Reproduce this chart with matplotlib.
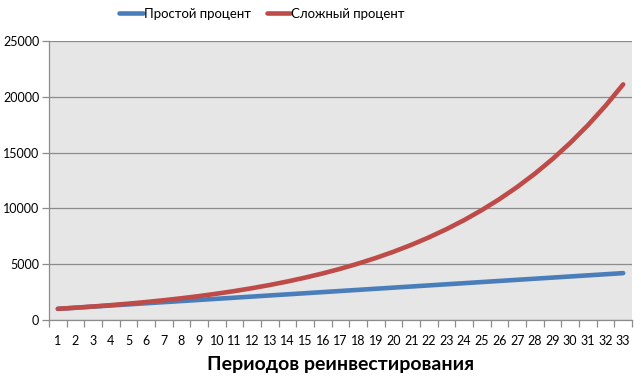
import matplotlib
matplotlib.use("Agg")
import matplotlib.pyplot as plt
from matplotlib.ticker import FixedLocator, NullFormatter

periods = list(range(1, 34))
simple = [1000, 1100, 1200, 1300, 1400, 1500, 1600, 1700, 1800, 1900, 2000,
          2100, 2200, 2300, 2400, 2500, 2600, 2700, 2800, 2900, 3000, 3100,
          3200, 3300, 3400, 3500, 3600, 3700, 3800, 3900, 4000, 4100, 4200]
compound = [1000, 1100, 1210, 1331, 1464, 1611, 1772, 1949, 2144, 2358, 2594,
            2853, 3138, 3452, 3797, 4177, 4595, 5054, 5560, 6116, 6727, 7400,
            8140, 8954, 9850, 10835, 11918, 13110, 14421, 15863, 17449, 19194, 21114]
yticks = [0, 5000, 10000, 15000, 20000, 25000]
series_names = ["Простой процент", "Сложный процент"]
xlabel = "Периодов реинвестирования"

plt.rcParams['font.family'] = ['Lato', 'DejaVu Sans']

fig = plt.figure(figsize=(6.41, 3.79), dpi=100)
ax = fig.add_axes([49/641, 1 - 320/379, (632 - 49)/641, (320 - 41)/379])
ax.set_facecolor('#E6E6E6')

ax.plot(periods, simple, color='#4A7EBB', lw=3.3, solid_capstyle='round', label=series_names[0], zorder=3)
ax.plot(periods, compound, color='#BE4B48', lw=3.3, solid_capstyle='round', label=series_names[1], zorder=3)

ax.set_xlim(0.5, 33.5)
ax.set_ylim(0, 25000)
ax.set_yticks(yticks)
ax.set_yticklabels([str(v) for v in yticks], fontsize=9)
ax.yaxis.grid(True, color='#8C8C8C', lw=0.9)
ax.set_axisbelow(True)

ax.set_xticks(periods)
ax.set_xticklabels([str(p) for p in periods], fontsize=9)
ax.tick_params(axis='x', length=0, pad=11)
ax.xaxis.set_minor_locator(FixedLocator([p + 0.5 for p in [0] + periods]))
ax.xaxis.set_minor_formatter(NullFormatter())
ax.tick_params(axis='x', which='minor', length=5, color='#8C8C8C', width=0.9)
ax.tick_params(axis='y', length=5, color='#8C8C8C', width=0.9, pad=2)

for s in ['top', 'right']:
    ax.spines[s].set_visible(False)
for s in ['left', 'bottom']:
    ax.spines[s].set_color('#8C8C8C')
    ax.spines[s].set_linewidth(0.9)

ax.set_xlabel(xlabel, fontsize=14, fontweight='bold', labelpad=6)

fig.legend(loc='center', bbox_to_anchor=(262/641, 1 - 14/379), ncol=2, frameon=False,
           fontsize=9.5, handlelength=1.8, handletextpad=0.05, columnspacing=1.2,
           borderpad=0, borderaxespad=0)

fig.savefig('out.png', dpi=100, facecolor='white')
